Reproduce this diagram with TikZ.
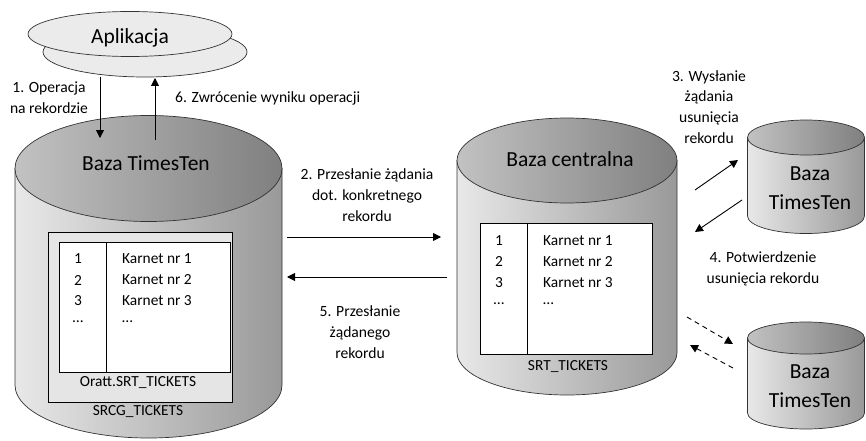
\documentclass[tikz,border=0pt]{standalone}
\usepackage{fontspec}
\setmainfont{Carlito}
\usetikzlibrary{arrows.meta}
\begin{document}
\begin{tikzpicture}[x=1pt,y=-1pt,
 lbl/.style={font=\fontsize{15.6}{20.8}\selectfont, align=center, inner sep=0pt},
 big/.style={font=\fontsize{21.5}{29}\selectfont, align=center, inner sep=0pt},
 cell/.style={font=\fontsize{15.4}{18}\selectfont, inner sep=0pt},
 arr/.style={-{Triangle[length=8pt,width=8pt]}, line width=0.9pt},
 darr/.style={arr, dash pattern=on 5pt off 4pt},
 cyl/.style={draw=black!80, line width=0.7pt},
 bodyfill/.style={cyl, left color=black!9, right color=black!40},
 topfill/.style={cyl, left color=black!24, right color=black!50},
 appfill/.style={draw=black!80, line width=0.7pt, fill=black!8},
 tabbox/.style={draw=black, line width=0.8pt},
]
\useasboundingbox (0,0) rectangle (866,441);
\newcommand\dbcyl[5]{%
  \path[bodyfill] ({#1-#2},#3) -- ({#1-#2},#5) arc[start angle=180,end angle=0,x radius=#2,y radius=#4] -- ({#1+#2},#3) -- cycle;
  \path[topfill] (#1,#3) ellipse[x radius=#2, y radius=#4];}

% Application
\path[appfill] (145,52) ellipse[x radius=102, y radius=25];
\path[appfill] (130,34) ellipse[x radius=102, y radius=22.5];
\node[big] (app) at (130,38) {Aplikacja};

% Left big cylinder
\dbcyl{148.5}{133.5}{168.5}{53}{385}
\node[big] (tt1) at (146,163) {Baza TimesTen};
\path[tabbox, fill=black!10] (48,232) rectangle (232,402);
\path[tabbox, fill=white] (59,242) rectangle (230,372);
\draw[tabbox] (106,242) -- (106,372);
\node[cell] (l1) at (78,259) {1};
\node[cell] (l2) at (78,280) {2};
\node[cell] (l3) at (78,301) {3};
\node[cell] (l4) at (78,322) {…};
\node[cell, anchor=west] (lk1) at (122,259) {Karnet nr 1};
\node[cell, anchor=west] (lk2) at (122,280) {Karnet nr 2};
\node[cell, anchor=west] (lk3) at (122,301) {Karnet nr 3};
\node[cell, anchor=west] (lk4) at (122,322) {…};
\node[cell] (oratt) at (138,383) {Oratt.SRT\_TICKETS};
\node[cell] (srcg) at (138,412) {SRCG\_TICKETS};

% Central cylinder
\dbcyl{567}{110}{160.5}{42.5}{352.5}
\node[big] (cen) at (570,159) {Baza centralna};
\path[tabbox, fill=white] (480,223) rectangle (652,354);
\draw[tabbox] (527,223) -- (527,354);
\node[cell] (c1) at (499,241) {1};
\node[cell] (c2) at (499,262) {2};
\node[cell] (c3) at (499,283) {3};
\node[cell] (c4) at (499,304) {…};
\node[cell, anchor=west] (ck1) at (543,241) {Karnet nr 1};
\node[cell, anchor=west] (ck2) at (543,262) {Karnet nr 2};
\node[cell, anchor=west] (ck3) at (543,283) {Karnet nr 3};
\node[cell, anchor=west] (ck4) at (543,304) {…};
\node[cell] (srt) at (568,367) {SRT\_TICKETS};

% Small cylinders
\dbcyl{806}{58.5}{137.5}{17.5}{216}
\node[big] (tt2) at (810,188) {Baza\\TimesTen};
\dbcyl{806}{58.5}{338}{16}{413}
\node[big] (tt3) at (810,386) {Baza\\TimesTen};

% Labels
\node[lbl] (lab1) at (49,98) {1. Operacja\\na rekordzie};
\node[lbl, anchor=west] (lab6) at (175,98) {6. Zwrócenie wyniku operacji};
\node[lbl] (lab2) at (367,195) {2. Przesłanie żądania\\dot. konkretnego\\rekordu};
\node[lbl] (lab5) at (360,332) {5. Przesłanie\\żądanego\\rekordu};
\node[lbl] (lab3) at (709,107) {3. Wysłanie\\żądania\\usunięcia\\rekordu};
\node[lbl] (lab4) at (763,268.5) {4. Potwierdzenie\\usunięcia rekordu};

% Arrow end points
\coordinate (a1s) at (100,77);  \coordinate (a1e) at (100,138);
\coordinate (a6s) at (155,140); \coordinate (a6e) at (155,78);
\coordinate (a2s) at (287,237); \coordinate (a2e) at (441,237);
\coordinate (a5s) at (447,277); \coordinate (a5e) at (287,277);
\coordinate (a3s) at (695,190); \coordinate (a3e) at (738,160);
\coordinate (a4s) at (742,200); \coordinate (a4e) at (695,232);
\coordinate (d1s) at (687,317); \coordinate (d1e) at (733,344);
\coordinate (d2s) at (733,368); \coordinate (d2e) at (690,345);

\draw[arr] (a1s) -- (a1e);
\draw[arr] (a6s) -- (a6e);
\draw[arr] (a2s) -- (a2e);
\draw[arr] (a5s) -- (a5e);
\draw[arr] (a3s) -- (a3e);
\draw[arr] (a4s) -- (a4e);
\draw[darr] (d1s) -- (d1e);
\draw[darr] (d2s) -- (d2e);
\end{tikzpicture}
\end{document}
